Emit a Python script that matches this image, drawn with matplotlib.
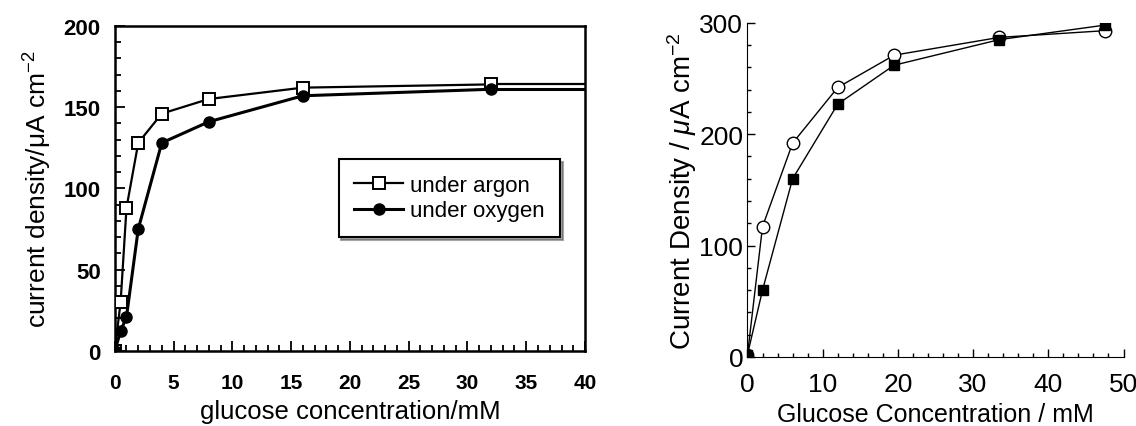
import matplotlib

matplotlib.use("Agg")
import matplotlib.pyplot as plt
from matplotlib.ticker import MultipleLocator

plt.rcParams["font.family"] = ["Liberation Sans", "DejaVu Sans"]
plt.rcParams["mathtext.fontset"] = "custom"
plt.rcParams["mathtext.rm"] = "Liberation Sans"
plt.rcParams["mathtext.it"] = "Liberation Sans:italic"

# left panel: glucose response under argon / oxygen
glc_left = [0, 0.5, 1, 2, 4, 8, 16, 32, 40]
argon = [0, 30, 88, 128, 146, 155, 162, 164, 164]
oxygen = [0, 12, 21, 75, 128, 141, 157, 161, 161]

# right panel: two electrodes
glc_right = [0, 2, 6, 12, 19.5, 33.5, 47.5]
open_circ = [2, 117, 192, 242, 271, 287, 293]
filled_sq = [2, 60, 160, 227, 262, 285, 298]

fig = plt.figure(figsize=(11.36, 4.27), dpi=100)

ax1 = fig.add_axes([0.101, 0.176, 0.414, 0.761])
ax1.plot(glc_left[:-1], argon[:-1], color="black", lw=1.6, marker="s", ms=8,
         mfc="white", mec="black", mew=1.4, label="under argon", zorder=3)
ax1.plot(glc_left[-2:], argon[-2:], color="black", lw=1.6)
ax1.plot(glc_left[:-1], oxygen[:-1], color="black", lw=2.2, marker="o", ms=8,
         mfc="black", mec="black", label="under oxygen", zorder=3)
ax1.plot(glc_left[-2:], oxygen[-2:], color="black", lw=2.2)
ax1.set_xlim(0, 40)
ax1.set_ylim(0, 200)
ax1.xaxis.set_major_locator(MultipleLocator(5))
ax1.xaxis.set_minor_locator(MultipleLocator(1))
ax1.yaxis.set_major_locator(MultipleLocator(50))
ax1.yaxis.set_minor_locator(MultipleLocator(10))
ax1.tick_params(which="both", direction="in", width=1.3)
ax1.tick_params(which="major", length=7)
ax1.tick_params(which="minor", length=4)
ax1.tick_params(axis="x", labelsize=15, pad=16)
ax1.tick_params(axis="y", labelsize=16, pad=10)
for lab in ax1.get_xticklabels() + ax1.get_yticklabels():
    lab.set_fontweight("bold")
for s in ax1.spines.values():
    s.set_linewidth(1.8)
ax1.set_xlabel("glucose concentration/mM", fontsize=18.5, labelpad=5)
ax1.set_ylabel("current density/\u03bcA cm$^{-2}$", fontsize=19, labelpad=7)
leg = ax1.legend(loc="center right", bbox_to_anchor=(0.97, 0.47), fontsize=16,
                 frameon=True, fancybox=False, shadow=True, edgecolor="black",
                 handlelength=2.2, handletextpad=0.3, borderpad=0.7,
                 labelspacing=0.2)
leg.get_frame().set_linewidth(1.5)

ax2 = fig.add_axes([0.658, 0.162, 0.331, 0.782])
ax2.plot(glc_right, open_circ, color="black", lw=1.0, marker="o", ms=9,
         mfc="white", mec="black", mew=1.0)
ax2.plot(glc_right, filled_sq, color="black", lw=1.0, marker="s", ms=7,
         mfc="black", mec="black")
ax2.set_xlim(0, 50)
ax2.set_ylim(0, 300)
ax2.spines["top"].set_visible(False)
ax2.spines["right"].set_visible(False)
ax2.xaxis.set_major_locator(MultipleLocator(10))
ax2.xaxis.set_minor_locator(MultipleLocator(2))
ax2.yaxis.set_major_locator(MultipleLocator(100))
ax2.yaxis.set_minor_locator(MultipleLocator(20))
ax2.tick_params(which="both", direction="in", width=1.0, labelsize=19)
ax2.tick_params(which="major", length=6)
ax2.tick_params(which="minor", length=3)
ax2.tick_params(axis="x", pad=11)
ax2.tick_params(axis="y", pad=3)
ax2.set_xlabel("Glucose Concentration / mM", fontsize=18, labelpad=4)
ax2.set_ylabel("Current Density / $\\mathit{\u03bc}$A cm$^{-2}$", fontsize=20,
               labelpad=0)

fig.savefig("out.png", dpi=100)
